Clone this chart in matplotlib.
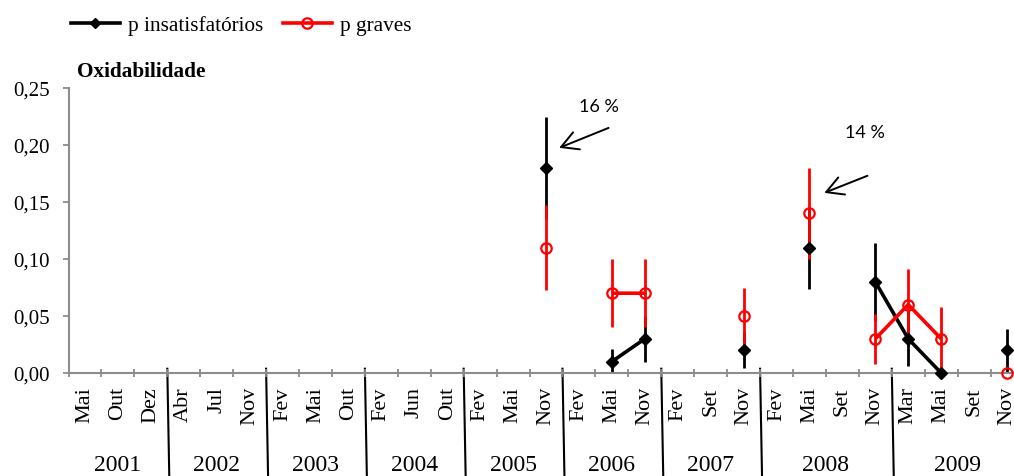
import numpy as np
import matplotlib
matplotlib.use("Agg")
import matplotlib.pyplot as plt
from matplotlib.lines import Line2D
from matplotlib.transforms import blended_transform_factory

# ---- data -------------------------------------------------------------
months = ["Mai", "Out", "Dez", "Abr", "Jul", "Nov", "Fev", "Mai", "Out",
          "Fev", "Jun", "Out", "Fev", "Mai", "Nov", "Fev", "Mai", "Nov",
          "Fev", "Set", "Nov", "Fev", "Mai", "Set", "Nov", "Mar", "Mai",
          "Set", "Nov"]
years = ["2001", "2002", "2003", "2004", "2005", "2006", "2007", "2008", "2009"]
months_per_year = [3, 3, 3, 3, 3, 3, 3, 4, 4]

N = None
p_insat = [N, N, N, N, N, N, N, N, N, N, N, N, N, N, 0.18, N, 0.01, 0.03,
           N, N, 0.02, N, 0.11, N, 0.08, 0.03, 0.00, N, 0.02]
p_insat_lo = [N, N, N, N, N, N, N, N, N, N, N, N, N, N, 0.045, N, 0.010, 0.020,
              N, N, 0.016, N, 0.036, N, 0.034, 0.024, 0.000, N, 0.019]
p_insat_hi = [N, N, N, N, N, N, N, N, N, N, N, N, N, N, 0.045, N, 0.011, 0.020,
              N, N, 0.016, N, 0.036, N, 0.034, 0.024, 0.000, N, 0.019]

p_graves = [N, N, N, N, N, N, N, N, N, N, N, N, N, N, 0.11, N, 0.07, 0.07,
            N, N, 0.05, N, 0.14, N, 0.03, 0.06, 0.03, N, 0.00]
p_graves_lo = [N, N, N, N, N, N, N, N, N, N, N, N, N, N, 0.037, N, 0.030, 0.030,
               N, N, 0.025, N, 0.040, N, 0.022, 0.031, 0.028, N, 0.000]
p_graves_hi = [N, N, N, N, N, N, N, N, N, N, N, N, N, N, 0.037, N, 0.030, 0.030,
               N, N, 0.025, N, 0.040, N, 0.022, 0.031, 0.028, N, 0.000]

y_ticks = [0.00, 0.05, 0.10, 0.15, 0.20, 0.25]


def arr(values):
    return np.array([np.nan if v is None else v for v in values], dtype=float)


# ---- figure -----------------------------------------------------------
plt.rcParams["font.family"] = ["Liberation Serif", "DejaVu Serif"]
W, H = 1014, 477
fig = plt.figure(figsize=(W / 100, H / 100), dpi=100)
ax = fig.add_axes([68.5 / W, 1 - 374 / H, 955 / W, 285 / H])

x = np.arange(len(months))
grey = "#8c8c8c"

series = [
    (arr(p_insat), arr(p_insat_lo), arr(p_insat_hi), "black", "D", "p insatisfatórios"),
    (arr(p_graves), arr(p_graves_lo), arr(p_graves_hi), "#ff0000", "o", "p graves"),
]

for k, (y, lo, hi, col, mk, lab) in enumerate(series):
    ok = ~np.isnan(y)
    ax.errorbar(x[ok], y[ok], yerr=[lo[ok], hi[ok]], fmt="none", ecolor=col,
                elinewidth=2.0, capsize=0, zorder=2 + k, clip_on=False)
    ax.plot(x, y, color=col, lw=2.6, zorder=4 + k, clip_on=False,
            solid_capstyle="butt")
    if mk == "D":
        ax.plot(x[ok], y[ok], linestyle="none", marker="D", ms=6.3,
                color=col, zorder=6, clip_on=False)
    else:
        ax.plot(x[ok], y[ok], linestyle="none", marker="o", ms=7.5,
                mfc="none", mec=col, mew=1.6, zorder=7, clip_on=False)

# ---- axes styling -----------------------------------------------------
ax.set_xlim(-0.5, len(months) - 0.5)
ax.set_ylim(0, 0.25)
for side in ("top", "right"):
    ax.spines[side].set_visible(False)
for side in ("left", "bottom"):
    ax.spines[side].set_color(grey)
    ax.spines[side].set_linewidth(1.5)

ax.set_yticks(y_ticks)
ax.set_yticklabels([f"{v:.2f}".replace(".", ",") for v in y_ticks], fontsize=15)
ax.tick_params(axis="y", direction="out", length=4.5, width=1.3, color=grey, pad=9)

ax.set_xticks(x)
ax.set_xticklabels(months, rotation=90, fontsize=16)
ax.tick_params(axis="x", which="major", length=0, pad=9.5)
ax.set_xticks(np.arange(len(months) + 1) - 0.5, minor=True)
ax.tick_params(axis="x", which="minor", direction="inout", length=6,
               width=1.3, color=grey)

# year separators and year labels below the month labels
trans = blended_transform_factory(ax.transData, ax.transAxes)
bottom_frac = -(H - 374) / 285
edges = np.cumsum(months_per_year)[:-1] - 0.5
for b in edges:
    ax.plot([b, b + 0.06], [0.015, bottom_frac], color="black", lw=1.5,
            transform=trans, clip_on=False, zorder=1)
start = 0
for yr, n in zip(years, months_per_year):
    ax.text(start + (n - 1) / 2, -(466 - 374) / 285, yr, transform=trans,
            ha="center", va="center", fontsize=17)
    start += n

# chart title
fig.text(77 / W, 1 - 72 / H, "Oxidabilidade", fontsize=15.3, fontweight="bold",
         ha="left", va="center")

# percentage call-outs
ann_font = dict(family=["Lato", "DejaVu Sans"], fontsize=13)
ax.text(15.6, 0.234, "16 %", ha="center", va="center", **ann_font)
ax.text(23.7, 0.2115, "14 %", ha="center", va="center", **ann_font)
arrow = dict(arrowstyle="->,head_length=0.6,head_width=0.33", lw=1.4,
             color="black", mutation_scale=20, shrinkA=0, shrinkB=0)
ax.annotate("", xy=(14.4, 0.1975), xytext=(15.9, 0.215), arrowprops=arrow)
ax.annotate("", xy=(22.45, 0.158), xytext=(23.76, 0.173), arrowprops=arrow)

# legend
handles = [
    Line2D([], [], color="black", lw=2.6, marker="D", ms=5),
    Line2D([], [], color="#ff0000", lw=2.6, marker="o", ms=7.5, mfc="none",
           mew=1.6),
]
fig.legend(handles, [s[5] for s in series], loc="center left",
           bbox_to_anchor=(71 / W, 1 - 26 / H), ncol=2, frameon=False,
           fontsize=15.3, handlelength=2.3, handletextpad=0.4,
           columnspacing=0.9, borderpad=0, borderaxespad=0)

fig.savefig("out.png", dpi=100)
